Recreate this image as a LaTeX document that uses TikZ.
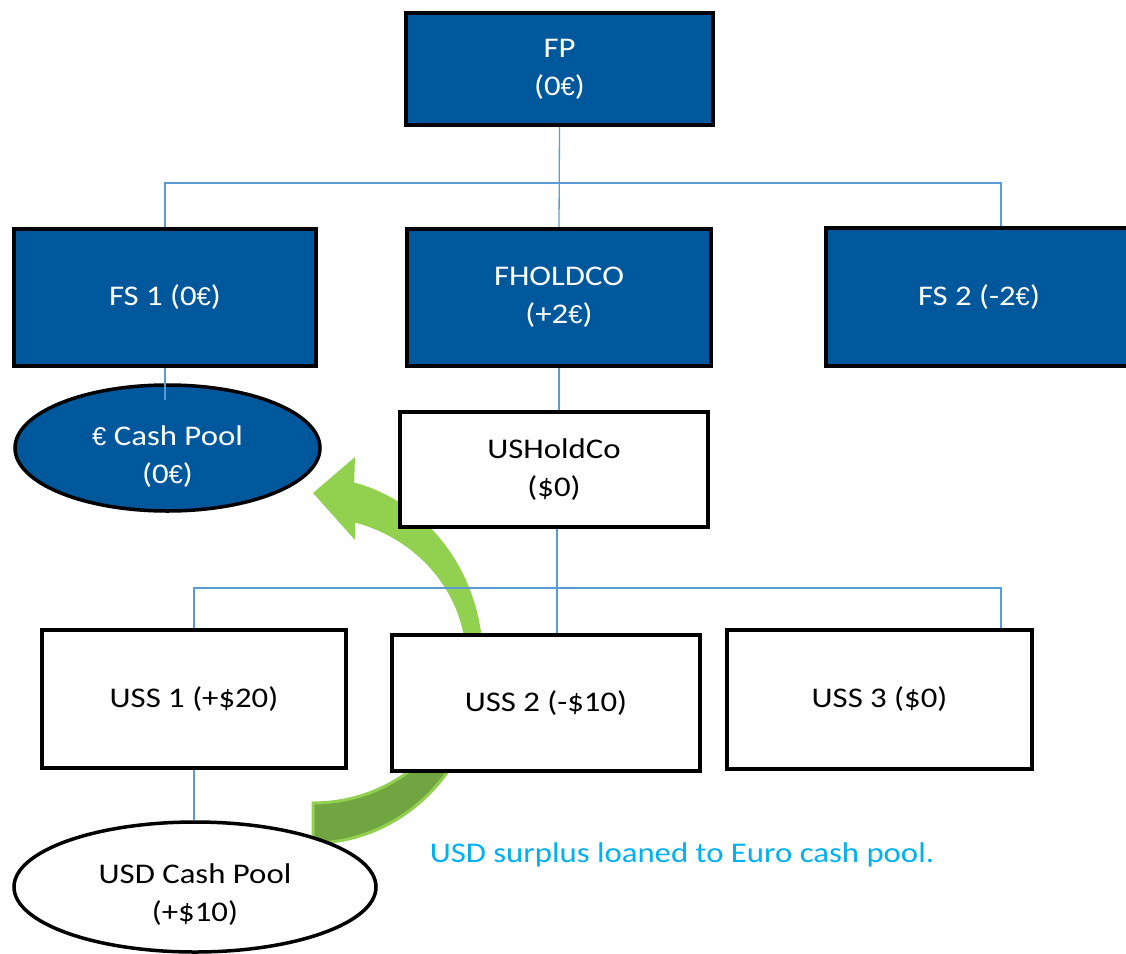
\documentclass[tikz,border=0pt]{standalone}
\usepackage{fontspec}
\setmainfont{Carlito}[FakeStretch=1.15]
\newfontfamily\eurofont{Liberation Sans}[Scale=0.9]
\newcommand{\eursign}{{\eurofont €}}
\usepackage{tikz}
\usetikzlibrary{positioning,shapes.geometric,calc}

\definecolor{boxblue}{RGB}{0,88,156}
\definecolor{linkblue}{RGB}{91,155,213}
\definecolor{arrowgreen}{RGB}{146,208,80}
\definecolor{arrowdark}{RGB}{113,165,65}
\definecolor{noteblue}{RGB}{0,176,240}

\pgfdeclarelayer{background}
\pgfsetlayers{background,main}

\begin{document}
\begin{tikzpicture}[x=1pt, y=-1pt,
  every node/.style={font=\fontsize{28.5}{38}\selectfont, align=center, inner sep=0pt},
  bluebox/.style={draw, line width=3.5pt, fill=boxblue, text=white},
  whitebox/.style={draw, line width=3.5pt, fill=white},
  pool/.style={ellipse, draw, line width=3.5pt},
  link/.style={draw=linkblue, line width=1.3pt}
]
\useasboundingbox (0,0) rectangle (1126,953);
\clip (0,0) rectangle (1126,953);

% euro side
\node[bluebox, minimum width=307, minimum height=112] (fp) at (559.5,69) {FP\\(0\eursign)};
\node[bluebox, minimum width=302, minimum height=137] (fs1) at (165,297.5) {FS 1 (0\eursign)};
\node[bluebox, minimum width=304, minimum height=137] (fhold) at (559,297.5) {FHOLDCO\\(+2\eursign)};
\node[bluebox, minimum width=306, minimum height=138] (fs2) at (979,297) {FS 2 (-2\eursign)};
\node[pool, fill=boxblue, minimum width=305, minimum height=126] (eupool) at (167.5,448) {};
\node[text=white, yshift=-9] (eupooltext) at (eupool) {\eursign{} Cash Pool\\(0\eursign)};

% usd side
\node[whitebox, minimum width=308, minimum height=115] (ushold) at (554,469.5) {USHoldCo\\(\$0)};
\node[whitebox, minimum width=304, minimum height=138] (uss1) at (194,699) {USS 1 (+\$20)};
\node[whitebox, minimum width=308, minimum height=136] (uss2) at (546,703) {USS 2 (-\$10)};
\node[whitebox, minimum width=305, minimum height=139] (uss3) at (879.5,699.5) {USS 3 (\$0)};
\node[pool, fill=white, minimum width=362, minimum height=130] (usdpool) at (195,887) {};
\node[yshift=-8] (usdpooltext) at (usdpool) {USD Cash Pool\\(+\$10)};

\node[text=noteblue] (note) at (682,855) {USD surplus loaned to Euro cash pool.};

\coordinate (topbus) at (560,183);
\coordinate (lowbus) at (557,588);

\begin{pgfonlayer}{background}
% curved loan arrow, back part first
\fill[arrowdark, draw=arrowgreen, line width=3pt]
  plot[domain=90:10, samples=40] ({313+170*cos(\x)},{660+183*sin(\x)})
  -- plot[domain=10:90, samples=40] ({313+153*cos(\x)},{660+143*sin(\x)}) -- cycle;
\fill[arrowgreen]
  plot[domain=-76:12, samples=40] ({313+170*cos(\x)},{660+183*sin(\x)})
  -- plot[domain=12:-74, samples=40] ({313+153*cos(\x)},{660+143*sin(\x)})
  -- (355,540) -- (313,493) -- (355,457) -- cycle;

\draw[link] (fp.south) -- (fhold.north);
\draw[link] (fs1.north) |- (topbus) -| ([xshift=22]fs2.north);
\draw[link] (fhold.south) -- (fhold.south |- ushold.north);
\draw[link] ([xshift=3]ushold.south) -- ([xshift=3]ushold.south |- uss2.north);
\draw[link] (uss1.north) |- (lowbus) -| ([xshift=121.5]uss3.north);
\draw[link] (uss1.south) -- (uss1.south |- usdpool.north);
\end{pgfonlayer}

\draw[link, shorten >=-17] (fs1.south) -- (fs1.south |- eupool.north);
\end{tikzpicture}
\end{document}
